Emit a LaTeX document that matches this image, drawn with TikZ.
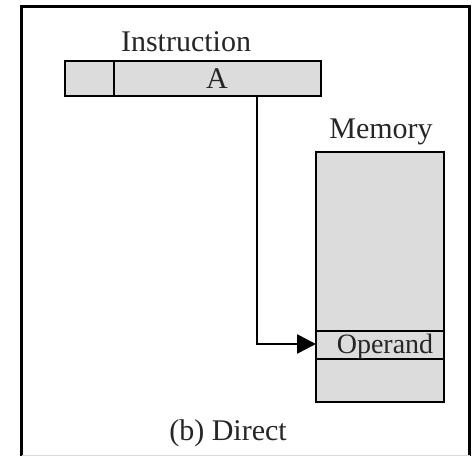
\documentclass[tikz,border=0pt]{standalone}
\usepackage{fontspec}
\setmainfont{Liberation Serif}
\usetikzlibrary{arrows.meta}
\definecolor{boxgray}{RGB}{220,220,220}
\begin{document}
\begin{tikzpicture}[x=1pt,y=-1pt,
  cell/.style={draw=black,fill=boxgray,line width=2.6pt},
  sep/.style={line width=2.6pt},
  lbl/.style={font=\fontsize{30}{33}\selectfont,text=black!85,inner sep=0pt,anchor=base},
  conn/.style={line width=2.6pt,-{Triangle[length=19pt,width=19pt]}}]
\useasboundingbox (0,0) rectangle (475,456);
% outer frame
\draw[line width=3.8pt] (21.5,456) -- (21.5,6.5) -- (469.5,6.5) -- (469.5,456);
\draw[black!15,line width=0.8pt] (21.5,455.3) -- (469.5,455.3);
% instruction
\node[lbl] (instr) at (186,51) {Instruction};
\draw[cell] (65,61) rectangle (321,96);
\draw[sep] (114,61) -- (114,96);
\node[lbl] (A) at (217,88) {A};
\coordinate (Abot) at (257,96);
% memory
\node[lbl] (mem) at (381,138) {Memory};
\draw[cell] (316,152) rectangle (444,402);
\draw[sep] (316,331) -- (444,331);
\draw[sep] (316,359) -- (444,359);
\node[lbl,font=\fontsize{28}{31}\selectfont] (op) at (385,353) {Operand};
\coordinate (opleft) at (316,344);
% arrow
\draw[conn] (Abot) |- (opleft);
% caption
\node[lbl] (cap) at (228,440) {(b) Direct};
\end{tikzpicture}
\end{document}
